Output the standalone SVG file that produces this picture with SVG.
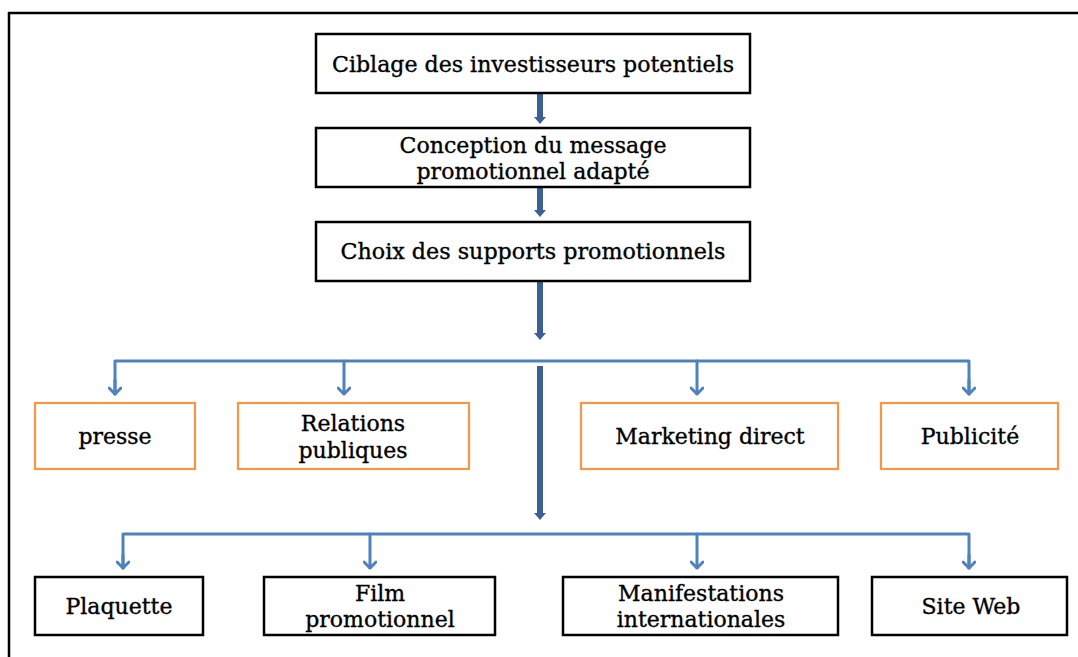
<svg xmlns="http://www.w3.org/2000/svg" width="1078" height="657" viewBox="0 0 1078 657">
<defs>
<style>
.bx{fill:#fff;stroke:#000;stroke-width:2.5}
.ob{fill:#fff;stroke:#f79646;stroke-width:2.2}
.t{font-family:"DejaVu Serif","Liberation Serif",serif;font-size:22px;fill:#000;stroke:#000;stroke-width:0.35;text-anchor:middle}
.dk{stroke:#3c6096;stroke-width:6;fill:none}
.bl{stroke:#4f81bd;stroke-width:3;fill:none;stroke-linejoin:round;stroke-linecap:round}
.hd{fill:#3c6096}
</style>
<marker id="v" viewBox="0 0 12 14" refX="11" refY="7" markerWidth="12" markerHeight="14" markerUnits="userSpaceOnUse" orient="auto">
<path d="M5,1 L11,7 L5,13" fill="none" stroke="#4f81bd" stroke-width="3" stroke-linecap="round" stroke-linejoin="round"/>
</marker>
</defs>
<rect width="1078" height="657" fill="#fff"/>
<path d="M9,660 V13 H1080" fill="none" stroke="#000" stroke-width="2.5"/>

<g id="connectors">
<line class="dk" x1="540" y1="93" x2="540" y2="118"/>
<path class="hd" d="M534,117 H546 L540,124 Z"/>
<line class="dk" x1="540" y1="187" x2="540" y2="211"/>
<path class="hd" d="M534,210 H546 L540,217 Z"/>
<line class="dk" x1="540" y1="281" x2="540" y2="334"/>
<path class="hd" d="M534,333 H546 L540,340 Z"/>
<line class="dk" x1="540" y1="366" x2="540" y2="514"/>
<path class="hd" d="M534,513 H546 L540,520 Z"/>
<path class="bl" d="M115,394 V361 H969 V394"/>
<path class="bl" d="M344,361 V394" marker-end="url(#v)"/>
<path class="bl" d="M697,361 V394" marker-end="url(#v)"/>
<path class="bl" d="M115,380 V394" marker-end="url(#v)"/>
<path class="bl" d="M969,380 V394" marker-end="url(#v)"/>
<path class="bl" d="M123,568 V534 H969 V568"/>
<path class="bl" d="M370,534 V568" marker-end="url(#v)"/>
<path class="bl" d="M697,534 V568" marker-end="url(#v)"/>
<path class="bl" d="M123,555 V568" marker-end="url(#v)"/>
<path class="bl" d="M969,555 V568" marker-end="url(#v)"/>
</g>

<g id="n1"><rect class="bx" x="316" y="34" width="434" height="59"/><text class="t" x="533" y="72" textLength="402" lengthAdjust="spacingAndGlyphs">Ciblage des investisseurs potentiels</text></g>
<g id="n2"><rect class="bx" x="316" y="128" width="434" height="59"/><text class="t" x="533" y="153" textLength="267" lengthAdjust="spacingAndGlyphs">Conception du message</text><text class="t" x="533" y="179" textLength="233" lengthAdjust="spacingAndGlyphs">promotionnel adapté</text></g>
<g id="n3"><rect class="bx" x="316" y="222" width="434" height="59"/><text class="t" x="533" y="259" textLength="385" lengthAdjust="spacingAndGlyphs">Choix des supports promotionnels</text></g>

<g id="presse"><rect class="ob" x="35" y="403" width="160" height="66"/><text class="t" x="115" y="444">presse</text></g>
<g id="relations"><rect class="ob" x="238" y="403" width="231" height="66"/><text class="t" x="353" y="431">Relations</text><text class="t" x="353" y="458">publiques</text></g>
<g id="marketing"><rect class="ob" x="581" y="403" width="257" height="66"/><text class="t" x="710" y="444">Marketing direct</text></g>
<g id="publicite"><rect class="ob" x="881" y="403" width="177" height="66"/><text class="t" x="970" y="444">Publicité</text></g>

<g id="plaquette"><rect class="bx" x="35" y="577" width="168" height="58"/><text class="t" x="119" y="614">Plaquette</text></g>
<g id="film"><rect class="bx" x="264" y="577" width="231" height="58"/><text class="t" x="380" y="601">Film</text><text class="t" x="380" y="627">promotionnel</text></g>
<g id="manif"><rect class="bx" x="563" y="577" width="275" height="58"/><text class="t" x="701" y="601">Manifestations</text><text class="t" x="701" y="627">internationales</text></g>
<g id="siteweb"><rect class="bx" x="872" y="577" width="195" height="58"/><text class="t" x="971" y="614">Site Web</text></g>
</svg>
